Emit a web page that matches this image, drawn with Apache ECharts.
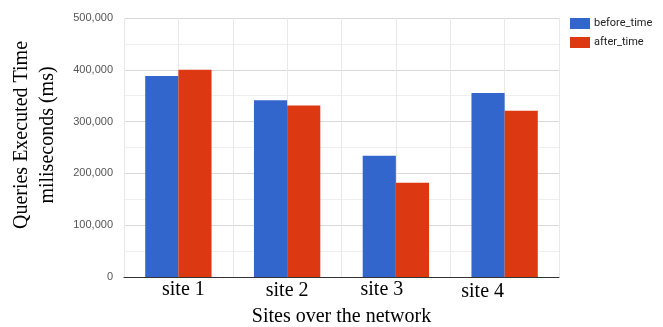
<!DOCTYPE html>
<html>
<head>
<meta charset="utf-8">
<script src="https://cdn.jsdelivr.net/npm/echarts@6/dist/echarts.min.js"></script>
<style>
  html, body { margin: 0; padding: 0; background: #fff; }
  #chart { width: 663px; height: 327px; }
</style>
</head>
<body>
<div id="chart"></div>
<script>
// Query execution time per site, before and after the change
const sites = ['site 1', 'site 2', 'site 3', 'site 4'];
const beforeTime = [388000, 341000, 234000, 355000];
const afterTime = [400000, 331000, 182000, 321000];
const yTicks = [0, 100000, 200000, 300000, 400000, 500000];

const serif = '"Liberation Serif", "Times New Roman", serif';
const sans = 'Arial, "Liberation Sans", sans-serif';

// small per-label nudges for the category captions
const labelRich = {
  s0: { fontFamily: serif, fontSize: 20, color: '#000', padding: [0, 0, 0, 10] },
  s1: { fontFamily: serif, fontSize: 20, color: '#000', padding: [1, 0, 0, 0] },
  s2: { fontFamily: serif, fontSize: 20, color: '#000', padding: [0, 28, 0, 0] },
  s3: { fontFamily: serif, fontSize: 20, color: '#000', padding: [2, 44, 0, 0] }
};

const chart = echarts.init(document.getElementById('chart'), null, { renderer: 'canvas' });

chart.setOption({
  animation: false,
  backgroundColor: '#fff',
  grid: { left: 124, right: 104, top: 18, bottom: 50, outerBoundsMode: 'none', containLabel: false },
  legend: {
    orient: 'vertical',
    left: 570,
    top: 18,
    padding: 0,
    itemWidth: 20,
    itemHeight: 11,
    itemGap: 8,
    icon: 'rect',
    textStyle: { fontFamily: 'Roboto, ' + sans, fontSize: 11, color: '#222', padding: [0, 0, 0, -1] },
    data: ['before_time', 'after_time']
  },
  xAxis: [
    {
      type: 'category',
      data: sites,
      axisLine: { lineStyle: { color: '#333', width: 1 } },
      axisTick: { show: false },
      splitLine: { show: false },
      axisLabel: {
        margin: 3,
        formatter: (v) => '{s' + sites.indexOf(v) + '|' + v + '}',
        rich: labelRich
      },
      name: 'Sites over the network',
      nameLocation: 'middle',
      nameGap: 28,
      nameTextStyle: { fontFamily: serif, fontSize: 20, color: '#000' }
    },
    {
      // light vertical guides at category edges and centres
      type: 'value',
      min: 0,
      max: sites.length * 2,
      interval: 1,
      show: true,
      position: 'bottom',
      axisLine: { show: false },
      axisTick: { show: false },
      axisLabel: { show: false },
      splitLine: { show: true, lineStyle: { color: '#e8e8e8', width: 1 } }
    }
  ],
  yAxis: {
    type: 'value',
    min: yTicks[0],
    max: yTicks[yTicks.length - 1],
    interval: 100000,
    axisLine: { show: false },
    axisTick: { show: false },
    axisLabel: {
      margin: 11,
      fontFamily: sans,
      fontSize: 11,
      color: '#555',
      formatter: (v) => v.toLocaleString('en-US')
    },
    splitLine: { lineStyle: { color: '#d9d9d9', width: 1 } },
    minorTick: { show: false, splitNumber: 2 },
    minorSplitLine: { show: true, lineStyle: { color: '#efefef', width: 1 } }
  },
  graphic: [
    {
      type: 'text',
      x: 22, y: 135,
      rotation: Math.PI / 2,
      style: {
        text: 'Queries Executed Time',
        font: '20px ' + serif,
        fill: '#000',
        align: 'center',
        verticalAlign: 'middle'
      }
    },
    {
      type: 'text',
      x: 48, y: 135,
      rotation: Math.PI / 2,
      style: {
        text: 'miliseconds (ms)',
        font: '20px ' + serif,
        fill: '#000',
        align: 'center',
        verticalAlign: 'middle'
      }
    }
  ],
  series: [
    {
      name: 'before_time',
      type: 'bar',
      xAxisIndex: 0,
      data: beforeTime,
      barGap: '0%',
      barCategoryGap: '39%',
      itemStyle: { color: '#3366cc' }
    },
    {
      name: 'after_time',
      type: 'bar',
      xAxisIndex: 0,
      data: afterTime,
      barGap: '0%',
      barCategoryGap: '39%',
      itemStyle: { color: '#dc3912' }
    }
  ]
});
</script>
</body>
</html>
